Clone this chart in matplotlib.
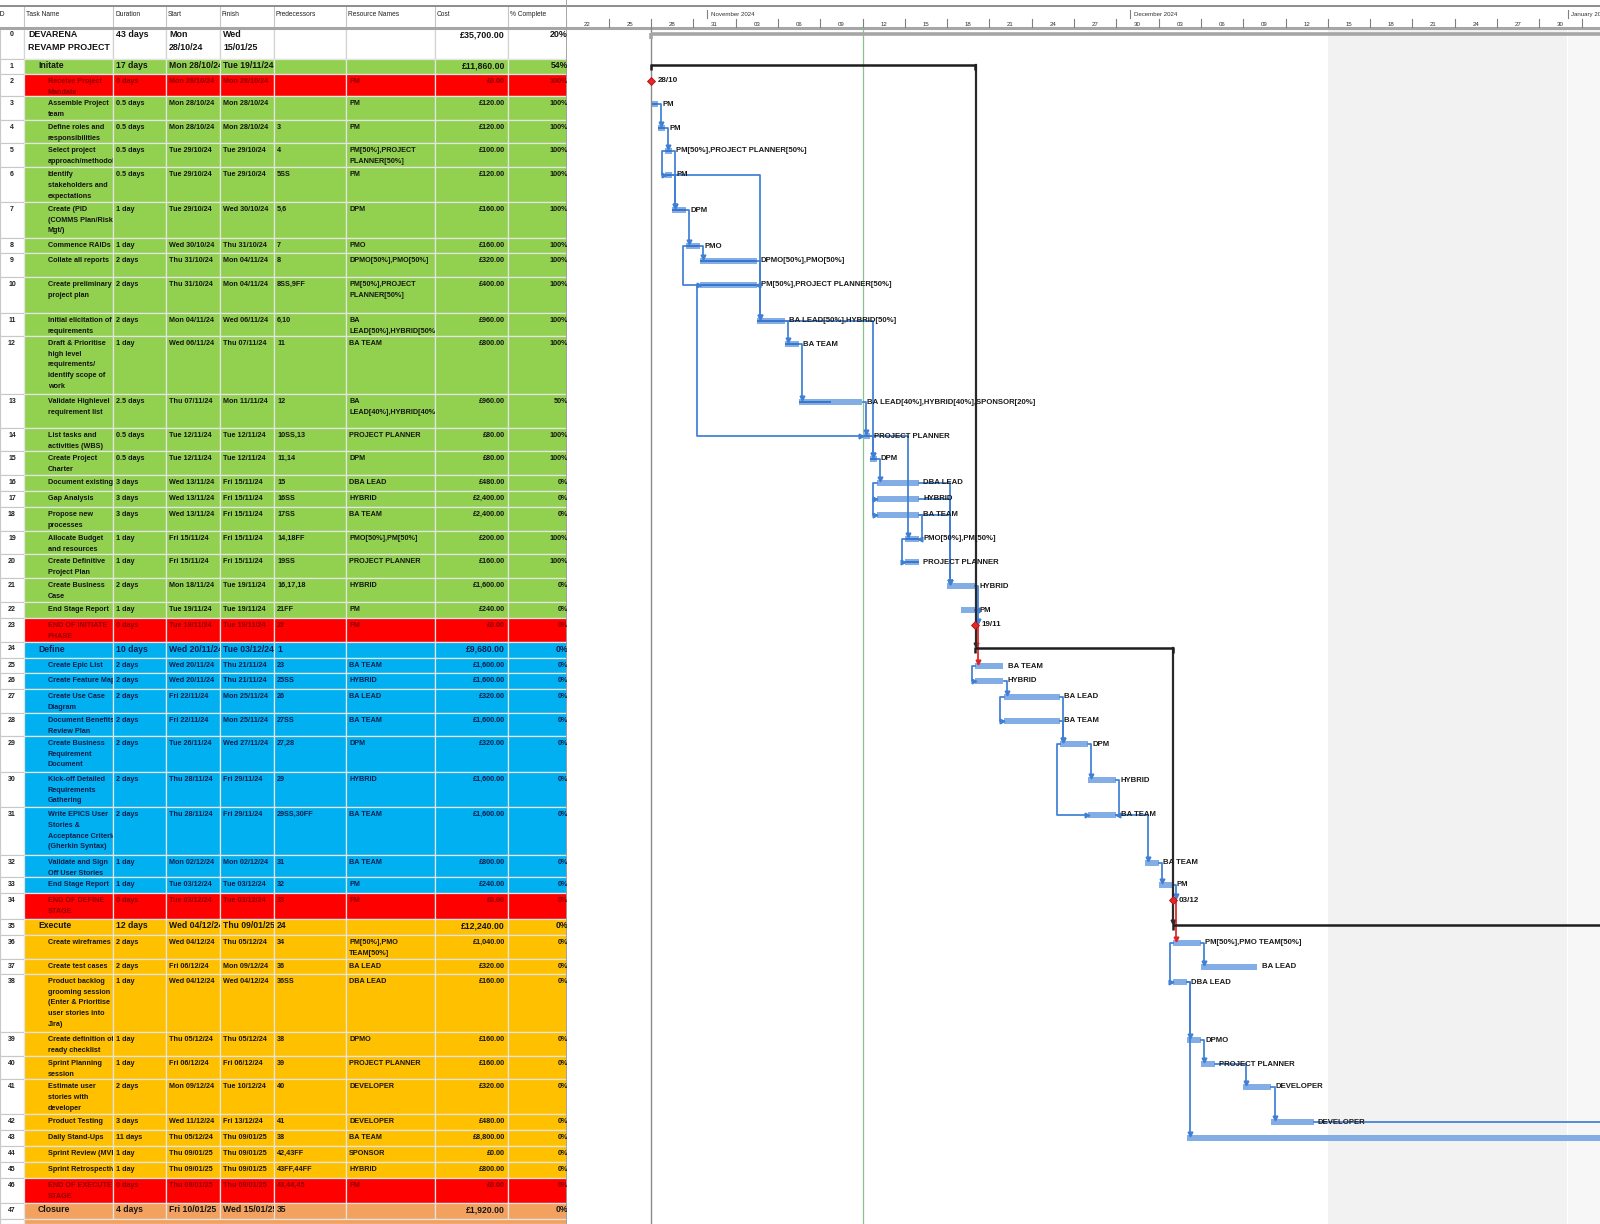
import pandas as pd
import matplotlib
matplotlib.use('Agg')
import matplotlib.pyplot as plt
import matplotlib.dates as mdates
from matplotlib.patches import Rectangle

plt.rcParams['font.family'] = ['Liberation Sans', 'DejaVu Sans']
narrow = ['Liberation Sans Narrow', 'Liberation Sans', 'DejaVu Sans']

# ---------------- data ----------------
task_names = [
    'DEVARENA\nREVAMP PROJECT', 'Initate', 'Receive Project\nMandate',
    'Assemble Project\nteam', 'Define roles and\nresponsibilities',
    'Select project\napproach/methodology', 'Identify\nstakeholders and\nexpectations',
    'Create (PID\n(COMMS Plan/Risk\nMgt/)', 'Commence RAIDs', 'Collate all reports',
    'Create preliminary\nproject plan', 'Initial elicitation of\nrequirements',
    'Draft & Prioritise\nhigh level\nrequirements/\nidentify scope of\nwork',
    'Validate Highlevel\nrequirement list', 'List tasks and\nactivities (WBS)',
    'Create Project\nCharter', 'Document existing', 'Gap Analysis',
    'Propose new\nprocesses', 'Allocate Budget\nand resources',
    'Create Definitive\nProject Plan', 'Create Business\nCase', 'End Stage Report',
    'END OF INITIATE\nPHASE', 'Define', 'Create Epic List', 'Create Feature Map',
    'Create Use Case\nDiagram', 'Document Benefits\nReview Plan',
    'Create Business\nRequirement\nDocument', 'Kick-off Detailed\nRequirements\nGathering',
    'Write EPICS User\nStories &\nAcceptance Criteria\n(Gherkin Syntax)',
    'Validate and Sign\nOff User Stories', 'End Stage Report', 'END OF DEFINE\nSTAGE',
    'Execute', 'Create wireframes', 'Create test cases',
    'Product backlog\ngrooming session\n(Enter & Prioritise\nuser stories into\nJira)',
    'Create definition of\nready checklist', 'Sprint Planning\nsession',
    'Estimate user\nstories with\ndeveloper', 'Product Testing', 'Daily Stand-Ups',
    'Sprint Review (MVP)', 'Sprint Retrospective', 'END OF EXECUTE\nSTAGE', 'Closure',
]
durations = ['43 days', '17 days', '0 days', '0.5 days', '0.5 days', '0.5 days', '0.5 days',
             '1 day', '1 day', '2 days', '2 days', '2 days', '1 day', '2.5 days', '0.5 days',
             '0.5 days', '3 days', '3 days', '3 days', '1 day', '1 day', '2 days', '1 day',
             '0 days', '10 days', '2 days', '2 days', '2 days', '2 days', '2 days', '2 days',
             '2 days', '1 day', '1 day', '0 days', '12 days', '2 days', '2 days', '1 day',
             '1 day', '1 day', '2 days', '3 days', '11 days', '1 day', '1 day', '0 days', '4 days']
start_text = ['Mon\n28/10/24', 'Mon 28/10/24', 'Mon 28/10/24', 'Mon 28/10/24', 'Mon 28/10/24',
              'Tue 29/10/24', 'Tue 29/10/24', 'Tue 29/10/24', 'Wed 30/10/24', 'Thu 31/10/24',
              'Thu 31/10/24', 'Mon 04/11/24', 'Wed 06/11/24', 'Thu 07/11/24', 'Tue 12/11/24',
              'Tue 12/11/24', 'Wed 13/11/24', 'Wed 13/11/24', 'Wed 13/11/24', 'Fri 15/11/24',
              'Fri 15/11/24', 'Mon 18/11/24', 'Tue 19/11/24', 'Tue 19/11/24', 'Wed 20/11/24',
              'Wed 20/11/24', 'Wed 20/11/24', 'Fri 22/11/24', 'Fri 22/11/24', 'Tue 26/11/24',
              'Thu 28/11/24', 'Thu 28/11/24', 'Mon 02/12/24', 'Tue 03/12/24', 'Tue 03/12/24',
              'Wed 04/12/24', 'Wed 04/12/24', 'Fri 06/12/24', 'Wed 04/12/24', 'Thu 05/12/24',
              'Fri 06/12/24', 'Mon 09/12/24', 'Wed 11/12/24', 'Thu 05/12/24', 'Thu 09/01/25',
              'Thu 09/01/25', 'Thu 09/01/25', 'Fri 10/01/25']
finish_text = ['Wed\n15/01/25', 'Tue 19/11/24', 'Mon 28/10/24', 'Mon 28/10/24', 'Mon 28/10/24',
               'Tue 29/10/24', 'Tue 29/10/24', 'Wed 30/10/24', 'Thu 31/10/24', 'Mon 04/11/24',
               'Mon 04/11/24', 'Wed 06/11/24', 'Thu 07/11/24', 'Mon 11/11/24', 'Tue 12/11/24',
               'Tue 12/11/24', 'Fri 15/11/24', 'Fri 15/11/24', 'Fri 15/11/24', 'Fri 15/11/24',
               'Fri 15/11/24', 'Tue 19/11/24', 'Tue 19/11/24', 'Tue 19/11/24', 'Tue 03/12/24',
               'Thu 21/11/24', 'Thu 21/11/24', 'Mon 25/11/24', 'Mon 25/11/24', 'Wed 27/11/24',
               'Fri 29/11/24', 'Fri 29/11/24', 'Mon 02/12/24', 'Tue 03/12/24', 'Tue 03/12/24',
               'Thu 09/01/25', 'Thu 05/12/24', 'Mon 09/12/24', 'Wed 04/12/24', 'Thu 05/12/24',
               'Fri 06/12/24', 'Tue 10/12/24', 'Fri 13/12/24', 'Thu 09/01/25', 'Thu 09/01/25',
               'Thu 09/01/25', 'Thu 09/01/25', 'Wed 15/01/25']
predecessors = ['', '', '', '', '3', '4', '5SS', '5,6', '7', '8', '8SS,9FF', '6,10', '11', '12',
                '10SS,13', '11,14', '15', '16SS', '17SS', '14,18FF', '19SS', '16,17,18', '21FF',
                '22', '1', '23', '25SS', '26', '27SS', '27,28', '29', '29SS,30FF', '31', '32',
                '33', '24', '34', '36', '36SS', '38', '39', '40', '41', '38', '42,43FF',
                '43FF,44FF', '43,44,45', '35']
resources = ['', '', 'PM', 'PM', 'PM', 'PM[50%],PROJECT\nPLANNER[50%]', 'PM', 'DPM', 'PMO',
             'DPMO[50%],PMO[50%]', 'PM[50%],PROJECT\nPLANNER[50%]', 'BA\nLEAD[50%],HYBRID[50%]',
             'BA TEAM', 'BA\nLEAD[40%],HYBRID[40%],SPONSOR[20%]', 'PROJECT PLANNER', 'DPM',
             'DBA LEAD', 'HYBRID', 'BA TEAM', 'PMO[50%],PM[50%]', 'PROJECT PLANNER', 'HYBRID',
             'PM', 'PM', '', 'BA TEAM', 'HYBRID', 'BA LEAD', 'BA TEAM', 'DPM', 'HYBRID',
             'BA TEAM', 'BA TEAM', 'PM', 'PM', '', 'PM[50%],PMO\nTEAM[50%]', 'BA LEAD',
             'DBA LEAD', 'DPMO', 'PROJECT PLANNER', 'DEVELOPER', 'DEVELOPER', 'BA TEAM',
             'SPONSOR', 'HYBRID', 'PM', '']
costs = ['£35,700.00', '£11,860.00', '£0.00', '£120.00', '£120.00', '£100.00', '£120.00',
         '£160.00', '£160.00', '£320.00', '£400.00', '£960.00', '£800.00', '£960.00', '£80.00',
         '£80.00', '£480.00', '£2,400.00', '£2,400.00', '£200.00', '£160.00', '£1,600.00',
         '£240.00', '£0.00', '£9,680.00', '£1,600.00', '£1,600.00', '£320.00', '£1,600.00',
         '£320.00', '£1,600.00', '£1,600.00', '£800.00', '£240.00', '£0.00', '£12,240.00',
         '£1,040.00', '£320.00', '£160.00', '£160.00', '£160.00', '£320.00', '£480.00',
         '£8,800.00', '£0.00', '£800.00', '£0.00', '£1,920.00']
pct_complete = [20, 54, 100, 100, 100, 100, 100, 100, 100, 100, 100, 100, 100, 50, 100, 100,
                0, 0, 0, 100, 100, 0, 0, 0, 0, 0, 0, 0, 0, 0, 0, 0, 0, 0, 0, 0, 0, 0, 0, 0,
                0, 0, 0, 0, 0, 0, 0, 0]
# bar extents in the timeline (12:00 = half a working day)
bar_start = ['2024-10-28', '2024-10-28', '2024-10-28', '2024-10-28', '2024-10-28 12:00',
             '2024-10-29', '2024-10-29', '2024-10-29 12:00', '2024-10-30 12:00',
             '2024-10-31 12:00', '2024-10-31 12:00', '2024-11-04 12:00', '2024-11-06 12:00',
             '2024-11-07 12:00', '2024-11-12', '2024-11-12 12:00', '2024-11-13', '2024-11-13',
             '2024-11-13', '2024-11-15', '2024-11-15', '2024-11-18', '2024-11-19', '2024-11-20',
             '2024-11-20', '2024-11-20', '2024-11-20', '2024-11-22', '2024-11-22', '2024-11-26',
             '2024-11-28', '2024-11-28', '2024-12-02', '2024-12-03', '2024-12-04', '2024-12-04',
             '2024-12-04', '2024-12-06', '2024-12-04', '2024-12-05', '2024-12-06', '2024-12-09',
             '2024-12-11', '2024-12-05', '2025-01-09', '2025-01-09', '2025-01-10', '2025-01-10']
bar_end = ['2025-01-16', '2024-11-20', '2024-10-28', '2024-10-28 12:00', '2024-10-29',
           '2024-10-29 12:00', '2024-10-29 12:00', '2024-10-30 12:00', '2024-10-31 12:00',
           '2024-11-04 12:00', '2024-11-04 12:00', '2024-11-06 12:00', '2024-11-07 12:00',
           '2024-11-12', '2024-11-12 12:00', '2024-11-13', '2024-11-16', '2024-11-16',
           '2024-11-16', '2024-11-16', '2024-11-16', '2024-11-20', '2024-11-20', '2024-11-20',
           '2024-12-04', '2024-11-22', '2024-11-22', '2024-11-26', '2024-11-26', '2024-11-28',
           '2024-11-30', '2024-11-30', '2024-12-03', '2024-12-04', '2024-12-04', '2025-01-10',
           '2024-12-06', '2024-12-10', '2024-12-05', '2024-12-06', '2024-12-07', '2024-12-11',
           '2024-12-14', '2025-01-10', '2025-01-10', '2025-01-10', '2025-01-10', '2025-01-16']
milestone_labels = ['28/10', '19/11', '03/12', '09/01']
status_date = '2024-11-12'
holiday = ('2024-12-15', '2025-01-01')

phase_colors = {'Initate': '#92D050', 'Define': '#00B0F0', 'Execute': '#FFC000',
                'Closure': '#F2A25E'}

# ---------------- layout ----------------
W, H = 1600, 1224
split = 567
header_h = 28
row_px = [31, 15, 22, 24, 23, 24, 35, 36, 15, 24, 36, 23, 58, 34, 23, 24, 16, 16, 24, 23, 24,
          24, 16, 24, 16, 15, 16, 24, 23, 36, 35, 48, 22, 16, 26, 16, 24, 15, 58, 24, 23, 35,
          16, 16, 16, 16, 25, 16]
col_edges = [0, 24, 113, 166, 220, 274, 346, 435, 508, 567]
headers = ['ID', 'Task Name', 'Duration', 'Start', 'Finish', 'Predecessors',
           'Resource Names', 'Cost', '% Complete']
px_day = 14.1
day0 = pd.Timestamp('2024-10-28')

n = len(task_names)
tops = [header_h]
for h in row_px:
    tops.append(tops[-1] + h)

is_mile = [d == '0 days' for d in durations]
is_sum = [(r == '' and not m) for r, m in zip(resources, is_mile)]

fig = plt.figure(figsize=(16, 12.24), dpi=100)
ax_t = fig.add_axes([0, 0, split / W, 1])
ax_g = fig.add_axes([split / W, 0, 1 - split / W, 1])
for ax in (ax_t, ax_g):
    ax.set_ylim(H, 0)
    ax.axis('off')
ax_t.set_xlim(0, split)
x_day0 = mdates.date2num(day0)
ax_g.set_xlim(x_day0 - (651 - split) / px_day, x_day0 + (W - 651) / px_day)
gx0, gx1 = ax_g.get_xlim()

# ---------------- table ----------------
grid_c = '#E4E4E4'
ax_t.add_patch(Rectangle((0, 6), split, header_h - 6, fc='white', ec='none'))
for j, htxt in enumerate(headers):
    x = col_edges[j] + 2 if j > 0 else -2
    ax_t.text(x, 14, htxt, fontsize=4.8, color='#222222', va='center', ha='left',
              family=narrow, clip_on=True)
    if j > 0:
        ax_t.plot([col_edges[j]] * 2, [6, header_h], color='#C4C4C4', lw=0.8)
ax_t.plot([0, split], [6, 6], color='#8C8C8C', lw=1.4)
ax_t.plot([0, split], [header_h, header_h], color='#A6A6A6', lw=2.2)

phase = None
for i in range(n):
    if is_sum[i] and i > 0:
        phase = task_names[i]
    top, h = tops[i], row_px[i]
    if i == 0:
        bg = 'white'
    elif is_mile[i]:
        bg = '#FF0000'
    else:
        bg = phase_colors[phase]
    txt_c = '#8E0000' if is_mile[i] else ('#0B1F4F' if bg == '#00B0F0' else '#141414')
    if i == 0:
        fs, dy, lsp, fam = 6.4, 12.3, 6.7, ['Liberation Sans']
    elif is_sum[i]:
        fs, dy, lsp, fam = 6.2, 12.3, 7.0, ['Liberation Sans']
    else:
        fs, dy, lsp, fam = 5.2, 10.6, 7.8, narrow
    # ID cell
    ax_t.add_patch(Rectangle((0, top), col_edges[1], h, fc='white', ec='#C8C8C8', lw=0.8))
    ax_t.text(12, top + lsp, str(i), fontsize=5.0, fontweight='bold', color='#222222',
              ha='center', va='center', family=narrow)
    values = [task_names[i], durations[i], start_text[i], finish_text[i], predecessors[i],
              resources[i], costs[i], f'{pct_complete[i]}%']
    for j, val in enumerate(values):
        cx0, cx1 = col_edges[j + 1], col_edges[j + 2]
        cell = Rectangle((cx0, top), cx1 - cx0, h, fc=bg, ec=grid_c if i > 0 else '#D4D4D4',
                         lw=0.9)
        ax_t.add_patch(cell)
        if j == 0:
            indent = 4 if i == 0 else (14 if is_sum[i] else 24)
            x, ha = cx0 + indent, 'left'
        elif j == 6:
            x, ha = cx1 - 3, 'right'
        elif j == 7:
            x, ha = 568, 'right'
        else:
            x, ha = cx0 + 3, 'left'
        for k, line in enumerate(val.split('\n')):
            t = ax_t.text(x, top + lsp + k * dy, line, fontsize=fs, fontweight='bold',
                          color=txt_c, ha=ha, va='center', family=fam, clip_on=True)
            if j < 7:
                t.set_clip_path(cell)
# partially visible next row of the Closure phase
ax_t.add_patch(Rectangle((0, tops[n]), col_edges[1], H - tops[n], fc='white', ec='#C8C8C8', lw=0.8))
ax_t.add_patch(Rectangle((col_edges[1], tops[n]), split - col_edges[1], H - tops[n],
                         fc=phase_colors['Closure'], ec=grid_c, lw=0.9))
ax_t.plot([split - 0.5] * 2, [0, H], color='#9E9E9E', lw=2.0)

# ---------------- gantt ----------------
xs = [mdates.date2num(pd.Timestamp(s)) for s in bar_start]
xe = [mdates.date2num(pd.Timestamp(s)) for s in bar_end]
bar_y = [tops[i] + (6 if is_sum[i] else (7 if is_mile[i] else 8)) for i in range(n)]

# holiday shading
hx0 = mdates.date2num(pd.Timestamp(holiday[0]))
hx1 = mdates.date2num(pd.Timestamp(holiday[1]))
ax_g.add_patch(Rectangle((hx0, header_h), hx1 - hx0, H - header_h, fc='#F2F2F2', ec='none'))
ax_g.add_patch(Rectangle((hx1, header_h), gx1 - hx1, H - header_h, fc='#F7F7F7', ec='none'))

# timescale header
ax_g.plot([gx0, gx1], [6, 6], color='#8C8C8C', lw=1.4)
ax_g.plot([gx0, gx1], [header_h, header_h], color='#A6A6A6', lw=2.2)
for m in pd.date_range('2024-11-01', '2025-01-01', freq='MS'):
    mx = mdates.date2num(m)
    ax_g.plot([mx, mx], [10, 17.5], color='#808080', lw=0.8)
    ax_g.text(mx + 0.25, 14.5, m.strftime('%B %Y'), fontsize=4.4, color='#333333',
              ha='left', va='center', family=narrow, clip_on=True)
for d in pd.date_range('2024-10-22', '2025-01-05', freq='3D'):
    dx = mdates.date2num(d)
    ax_g.plot([dx, dx], [19, 27], color='#808080', lw=0.8)
    ax_g.text(dx + 1.5, 24, d.strftime('%d'), fontsize=4.4, color='#333333',
              ha='center', va='center', family=narrow, clip_on=True)

# project start and status lines
ax_g.plot([x_day0] * 2, [header_h, H], color='#8A8A8A', lw=1.0)
sx = mdates.date2num(pd.Timestamp(status_date))
ax_g.plot([sx] * 2, [header_h, H], color='#8CC08C', lw=0.9)

link_c, bar_c, prog_c = '#3F7FD6', '#82AEE5', '#3A77CC'
bh = 6.0
d = 0.22


def arrow(x, y, m, c):
    ax_g.plot([x], [y], marker=m, ms=3.4, color=c, mec=c, clip_on=True)


# dependency links, parsed from the Predecessors column
for s in range(n):
    if not predecessors[s]:
        continue
    for tok in predecessors[s].split(','):
        kind = 'FS'
        if tok.endswith('SS') or tok.endswith('FF'):
            kind, tok = tok[-2:], tok[:-2]
        p = int(tok)
        yp, ys = bar_y[p], bar_y[s]
        if is_sum[p] and is_sum[s]:
            ax_g.plot([xe[p] + 0.05] * 2, [yp, ys - 2], color='#2A2A2A', lw=1.6)
            arrow(xe[p] + 0.05, ys - 3, 'v', '#2A2A2A')
            continue
        c = '#E02424' if is_mile[p] else link_c
        if kind == 'FS':
            xv = max(xe[p], xs[s]) + d
            ax_g.plot([xe[p], xv, xv], [yp, yp, ys - bh / 2 - 1], color=c, lw=1.25)
            arrow(xv, ys - bh / 2 - 1.5, 'v', c)
        elif kind == 'SS':
            xv = min(xs[p], xs[s]) - d
            ax_g.plot([xs[p], xv, xv, xs[s]], [yp, yp, ys, ys], color=c, lw=1.25)
            arrow(xs[s] - 0.1, ys, '>', c)
        else:
            xv = max(xe[p], xe[s]) + d
            ax_g.plot([xe[p], xv, xv, xe[s]], [yp, yp, ys, ys], color=c, lw=1.25)
            arrow(xe[s] + 0.1, ys, '<', c)

k_mile = 0
for i in range(n):
    y = bar_y[i]
    if is_sum[i]:
        c, lw = ('#A6A6A6', 2.6) if i == 0 else ('#1E1E1E', 1.8)
        ax_g.plot([xs[i], xe[i]], [y, y], color=c, lw=lw, solid_capstyle='butt')
        for xx in (xs[i], xe[i]):
            ax_g.plot([xx, xx], [y - 1, y + 4.5], color=c, lw=lw, solid_capstyle='butt')
        continue
    if is_mile[i]:
        ax_g.plot([xs[i]], [y], marker='D', ms=4.4, mfc='#E8262A', mec='#A81212', mew=0.6)
        ax_g.text(xs[i] + 0.45, y, milestone_labels[k_mile], fontsize=5.8, fontweight='bold',
                  color='#1A1A1A', va='center', clip_on=True)
        k_mile += 1
        continue
    ax_g.add_patch(Rectangle((xs[i], y - bh / 2), xe[i] - xs[i], bh, fc=bar_c, ec='none'))
    if pct_complete[i] > 0:
        w = (xe[i] - xs[i]) * pct_complete[i] / 100
        ax_g.add_patch(Rectangle((xs[i], y - 1.3), w, 2.6, fc=prog_c, ec='none'))
    ax_g.text(xe[i] + 0.3, y, resources[i].replace('\n', ' '), fontsize=5.6,
              fontweight='bold', color='#1A1A1A', va='center', clip_on=True)

fig.savefig('out.png', dpi=100)
